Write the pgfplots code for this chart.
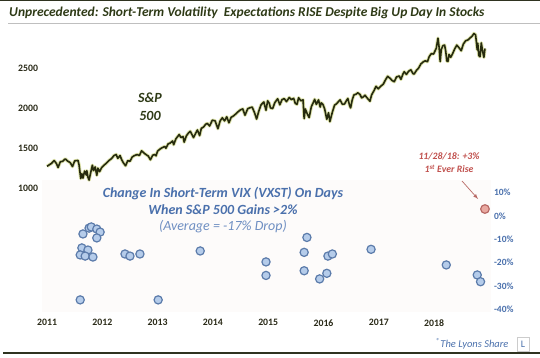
\documentclass[border=0pt]{standalone}
\usepackage{fontspec}
\setmainfont{Carlito}
\usepackage{pgfplots}
\usepackage{pgfplotstable}
\pgfplotsset{compat=1.18}
\definecolor{titlecol}{HTML}{2E3A16}
\definecolor{darkline}{HTML}{2F3320}
\definecolor{spxcol}{HTML}{262B0E}
\definecolor{halo}{HTML}{D6DC98}
\definecolor{panel}{HTML}{FDFBFA}
\definecolor{bluetxt}{HTML}{4A70AC}
\definecolor{bluetxt2}{HTML}{6F8FC2}
\definecolor{dotfill}{HTML}{B5CCEA}
\definecolor{dotdraw}{HTML}{5B7BAA}
\definecolor{redfill}{HTML}{E9A9A1}
\definecolor{reddraw}{HTML}{B86A66}
\definecolor{redtxt}{HTML}{C0504D}
\definecolor{ticktxt}{HTML}{2A2A18}

\pgfplotstableread{
t v
2011.00 1271
2011.04 1290
2011.08 1307
2011.13 1343
2011.17 1306
2011.20 1256
2011.24 1328
2011.28 1333
2011.33 1364
2011.37 1338
2011.42 1317
2011.46 1268
2011.50 1339
2011.56 1345
2011.58 1286
2011.61 1119
2011.63 1178
2011.65 1124
2011.68 1212
2011.71 1162
2011.72 1216
2011.74 1136
2011.76 1099
2011.80 1224
2011.82 1285
2011.84 1218
2011.87 1263
2011.90 1158
2011.92 1247
2011.95 1205
2011.99 1258
2012.04 1290
2012.08 1316
2012.12 1344
2012.17 1370
2012.21 1405
2012.25 1419
2012.28 1370
2012.32 1406
2012.35 1354
2012.38 1316
2012.42 1278
2012.46 1342
2012.50 1334
2012.54 1387
2012.58 1405
2012.63 1418
2012.67 1406
2012.71 1465
2012.76 1433
2012.80 1413
2012.83 1400
2012.87 1353
2012.91 1409
2012.95 1419
2012.97 1402
2013.00 1462
2013.04 1485
2013.08 1503
2013.13 1519
2013.15 1497
2013.19 1551
2013.23 1563
2013.27 1588
2013.29 1541
2013.33 1614
2013.37 1650
2013.39 1669
2013.42 1631
2013.46 1643
2013.48 1573
2013.52 1652
2013.56 1690
2013.59 1709
2013.63 1656
2013.65 1630
2013.69 1688
2013.72 1725
2013.76 1655
2013.79 1745
2013.83 1762
2013.87 1798
2013.90 1807
2013.94 1775
2013.99 1848
2014.04 1839
2014.09 1741
2014.13 1838
2014.17 1878
2014.21 1839
2014.25 1890
2014.29 1815
2014.33 1884
2014.37 1900
2014.41 1924
2014.45 1950
2014.50 1978
2014.54 1988
2014.58 1910
2014.63 1992
2014.67 2003
2014.71 2011
2014.75 1946
2014.79 1862
2014.83 1961
2014.87 2039
2014.92 2075
2014.96 1972
2014.99 2090
2015.02 2058
2015.04 2002
2015.08 1993
2015.12 2068
2015.17 2115
2015.19 2080
2015.21 2040
2015.25 2105
2015.29 2117
2015.33 2080
2015.38 2131
2015.42 2105
2015.46 2121
2015.49 2057
2015.52 2046
2015.55 2128
2015.59 2090
2015.63 2102
2015.65 1868
2015.67 1988
2015.71 1921
2015.74 1881
2015.78 2017
2015.82 2075
2015.84 2109
2015.87 2045
2015.91 2102
2015.94 2012
2015.96 2064
2015.99 2044
2016.02 1990
2016.05 1890
2016.06 1859
2016.09 1940
2016.105 1880
2016.115 1829
2016.16 1948
2016.20 2036
2016.23 2050
2016.26 2072
2016.30 2102
2016.34 2047
2016.38 2050
2016.42 2099
2016.44 2119
2016.47 2037
2016.49 2001
2016.52 2103
2016.55 2163
2016.59 2173
2016.62 2190
2016.66 2169
2016.69 2127
2016.72 2139
2016.75 2160
2016.78 2133
2016.84 2085
2016.87 2164
2016.91 2213
2016.95 2271
2016.99 2239
2017.04 2275
2017.08 2297
2017.12 2351
2017.16 2396
2017.20 2373
2017.24 2344
2017.28 2329
2017.32 2388
2017.37 2400
2017.40 2358
2017.44 2430
2017.46 2453
2017.50 2420
2017.54 2460
2017.58 2477
2017.62 2428
2017.64 2425
2017.68 2470
2017.72 2500
2017.76 2550
2017.80 2575
2017.84 2590
2017.88 2579
2017.91 2640
2017.95 2680
2017.99 2674
2018.04 2748
2018.07 2873
2018.09 2762
2018.11 2581
2018.13 2732
2018.16 2780
2018.19 2786
2018.21 2711
2018.23 2588
2018.25 2582
2018.27 2670
2018.30 2634
2018.33 2672
2018.37 2735
2018.41 2786
2018.45 2754
2018.49 2716
2018.53 2801
2018.57 2840
2018.61 2850
2018.65 2875
2018.69 2900
2018.72 2931
2018.75 2914
2018.78 2728
2018.79 2809
2018.81 2656
2018.83 2641
2018.845 2740
2018.853 2814
2018.88 2700
2018.90 2633
2018.92 2743
}\spx

\pgfplotstableread{
t p
2011.65 -7.7
2011.76 -5.2
2011.80 -4.7
2011.90 -5.6
2011.96 -6.9
2011.90 -9.4
2011.63 -13.7
2011.74 -14.6
2011.60 -16.7
2011.69 -17.2
2011.83 -17.6
2011.60 -36.0
2012.41 -16.3
2012.50 -17.2
2012.68 -16.3
2013.01 -36.0
2013.77 -15.0
2014.96 -19.7
2014.96 -25.5
2015.70 -9.2
2015.65 -15.6
2015.65 -23.5
2015.93 -27.0
2016.06 -24.6
2016.08 -17.2
2016.16 -16.3
2016.86 -14.3
2018.22 -21.0
2018.78 -25.3
2018.84 -28.2
}\vxst

\pgfplotstableread{
t p
2018.92 3
}\latest

\begin{document}
\begin{tikzpicture}
\path[use as bounding box] (0pt,0pt) rectangle (540pt,357pt);
\fill[darkline] (0pt,355.6pt) rectangle (540pt,357pt);
\draw[black!25, line width=0.8pt] (8pt,333.5pt) -- (540pt,333.5pt);
\node[anchor=west, inner sep=0pt, text=titlecol, font=\fontsize{13.5}{15}\selectfont\bfseries\itshape] at (9pt,344.5pt) {Unprecedented: Short-Term Volatility\ \ Expectations RISE Despite Big Up Day In Stocks};
\draw[darkline, line width=1.5pt] (3pt,4pt) -- (540pt,4pt);

% lower panel: VXST changes
\begin{axis}[at={(41.5pt,45pt)}, anchor=south west, scale only axis,
  width=449pt, height=132pt,
  xmin=2010.9, xmax=2019.02, ymin=-41.2, ymax=15.45,
  axis background/.style={fill=panel},
  axis line style={draw=none}, major tick length=0pt,
  xtick={2011,2012,2013,2014,2015,2016,2017,2018},
  xticklabels={2011,2012,2013,2014,2015,2016,2017,2018},
  xticklabel style={font=\fontsize{9.8}{11}\selectfont\bfseries, text=ticktxt, yshift=-4pt},
  ytick={10,0,-10,-20,-30,-40},
  yticklabels={10\%,0\%,-10\%,-20\%,-30\%,-40\%},
  yticklabel pos=right,
  yticklabel style={font=\fontsize{9.5}{11}\selectfont\bfseries, text=bluetxt},
  /pgf/number format/assume math mode=true,
  clip=false]
\addplot[only marks, mark=*, mark size=4.1pt, mark options={fill=dotfill, draw=dotdraw, line width=1.2pt}] table {\vxst};
\addplot[only marks, mark=*, mark size=4.3pt, mark options={fill=redfill, draw=reddraw, line width=1.2pt}] table {\latest};
\end{axis}

% upper panel: S&P 500
\begin{axis}[at={(41.5pt,169pt)}, anchor=south west, scale only axis,
  width=449pt, height=160pt,
  xmin=2010.9, xmax=2019.02, ymin=1000, ymax=3000,
  axis line style={draw=none}, major tick length=0pt,
  xtick=\empty,
  ytick={1000,1500,2000,2500},
  yticklabels={1000,1500,2000,2500},
  yticklabel style={font=\fontsize{9.8}{11}\selectfont\bfseries, text=ticktxt},
  /pgf/number format/assume math mode=true,
  clip=false]
\addplot[halo, line width=3.4pt, opacity=0.8, line join=round] table {\spx};
\addplot[spxcol, line width=1.6pt, line join=round] table {\spx};
\end{axis}

\node[align=center, text=titlecol, font=\fontsize{14}{18}\selectfont\bfseries\itshape] at (150pt,250pt) {S\&P\\500};

\node[text=bluetxt, font=\fontsize{14}{16}\selectfont\bfseries\itshape] at (223pt,164pt) {Change In Short-Term VIX (VXST) On Days};
\node[text=bluetxt, font=\fontsize{14}{16}\selectfont\bfseries\itshape] at (223pt,147pt) {When S\&P 500 Gains >2\%};
\node[text=bluetxt2, font=\fontsize{14}{16}\selectfont\itshape] at (223pt,130pt) {(Average = -17\% Drop)};

\node[text=redtxt, font=\fontsize{9.8}{11}\selectfont\bfseries\itshape] at (449pt,201pt) {11/28/18: +3\%};
\node[text=redtxt, font=\fontsize{9.8}{11}\selectfont\bfseries\itshape] at (449pt,188pt) {1\textsuperscript{st} Ever Rise};
\draw[-{latex}, color=reddraw, line width=0.7pt] (462pt,176pt) -- (478pt,158pt);

\node[anchor=east, text=bluetxt, font=\fontsize{10.5}{12}\selectfont\itshape] at (512pt,13pt) {\textsuperscript{\textregistered}The Lyons Share};
\draw[black!20, fill=white, line width=0.6pt] (517pt,6pt) rectangle (529pt,20pt);
\node[text=bluetxt, font=\fontsize{10}{11}\selectfont] at (523pt,13pt) {L};
\end{tikzpicture}
\end{document}
